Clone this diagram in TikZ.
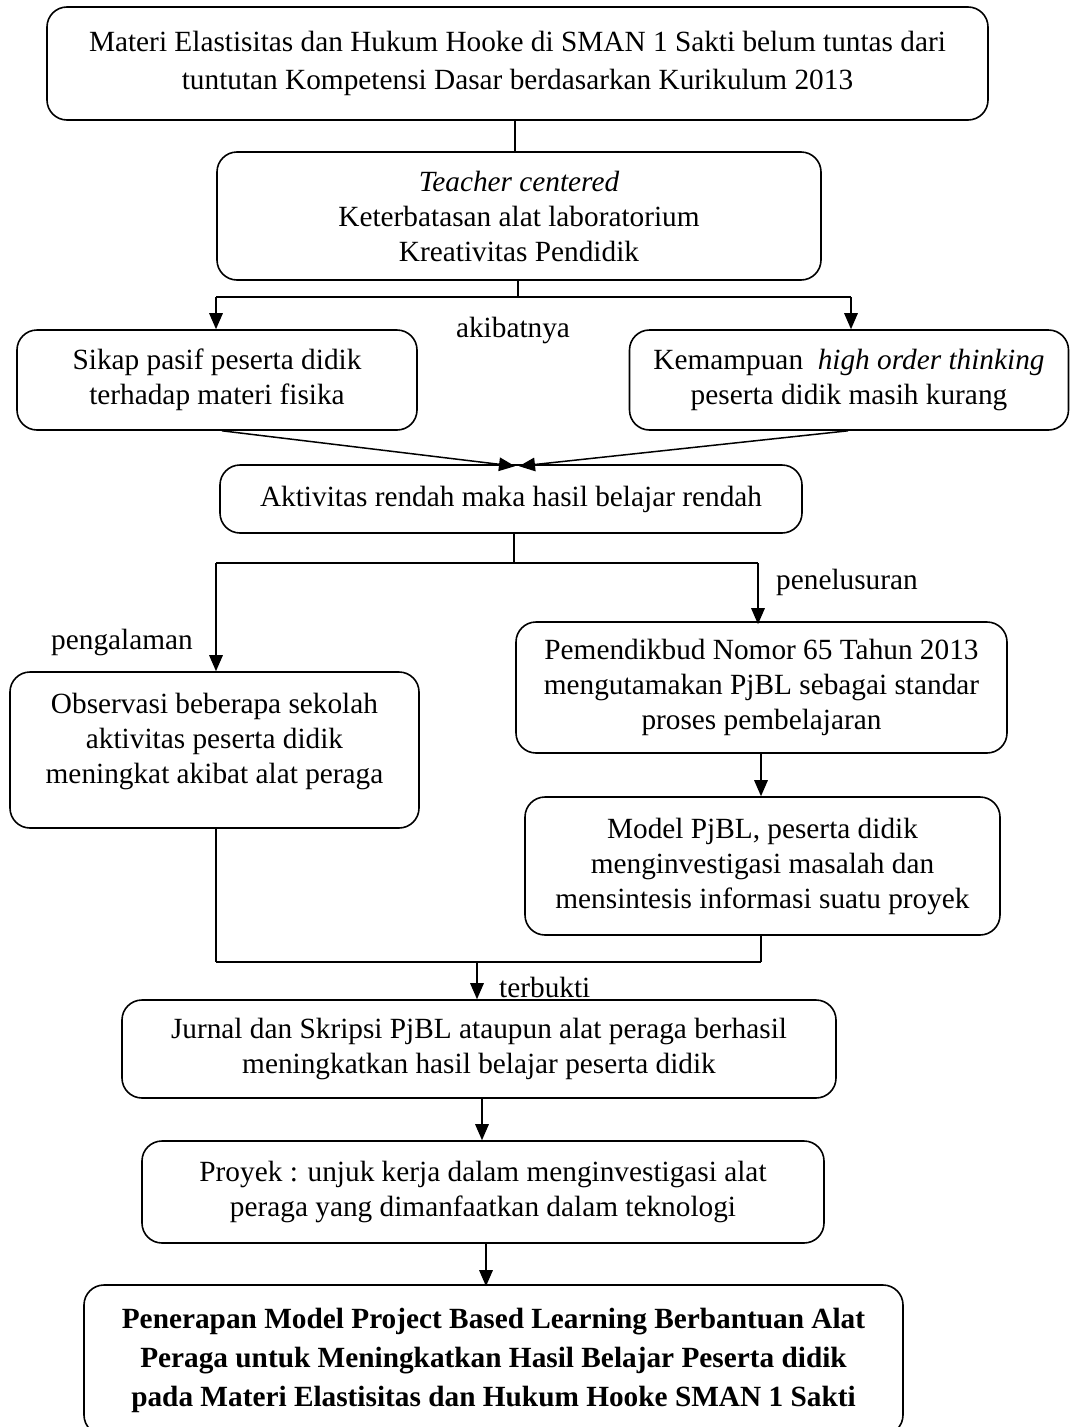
\documentclass[tikz,border=0pt]{standalone}
\usepackage{fontspec}
\setmainfont{Liberation Serif}
\usetikzlibrary{arrows.meta,calc}
\begin{document}
\begin{tikzpicture}[x=1pt,y=-1pt,
  box/.style={draw, line width=1.6pt, rounded corners=20pt, align=center, inner sep=0pt,
    font=\fontsize{29.3}{35}\selectfont},
  lbl/.style={inner sep=0pt, font=\fontsize{29.3}{35}\selectfont},
  conn/.style={line width=1.5pt},
  arr/.style={line width=1.5pt, -{Triangle[length=16pt,width=13.5pt]}}]
\useasboundingbox (0,0) rectangle (1071,1427);
% boxes
\node[box, minimum width=941pt, minimum height=113pt, font=\fontsize{29.3}{38}\selectfont] (b1) at (517.5,63.5)
  {Materi Elastisitas dan Hukum Hooke di SMAN 1 Sakti belum tuntas dari\\tuntutan Kompetensi Dasar berdasarkan Kurikulum 2013};
\node[box, minimum width=604pt, minimum height=128pt] (b2) at (519,216)
  {\textit{Teacher centered}\\Keterbatasan alat laboratorium\\Kreativitas Pendidik};
\node[box, minimum width=400pt, minimum height=100pt] (b3) at (217,380)
  {Sikap pasif peserta didik\\terhadap materi fisika};
\node[box, minimum width=439pt, minimum height=100pt] (b4) at (849,380)
  {Kemampuan\ \ \textit{high order thinking}\\peserta didik masih kurang};
\node[box, minimum width=582pt, minimum height=68pt] (b5) at (511,499)
  {Aktivitas rendah maka hasil belajar rendah};
\node[box, minimum width=409pt, minimum height=156pt, text depth=23pt] (b6) at (214.5,750)
  {Observasi beberapa sekolah\\aktivitas peserta didik\\meningkat akibat alat peraga};
\node[box, minimum width=491pt, minimum height=131pt] (b7) at (761.5,687.5)
  {Pemendikbud Nomor 65 Tahun 2013\\mengutamakan PjBL sebagai standar\\proses pembelajaran};
\node[box, minimum width=475pt, minimum height=138pt] (b8) at (762.5,866)
  {Model PjBL, peserta didik\\menginvestigasi masalah dan\\mensintesis informasi suatu proyek};
\node[box, minimum width=714pt, minimum height=98pt] (b9) at (479,1049)
  {Jurnal dan Skripsi PjBL ataupun alat peraga berhasil\\meningkatkan hasil belajar peserta didik};
\node[box, minimum width=682pt, minimum height=102pt] (b10) at (483,1192)
  {Proyek : unjuk kerja dalam menginvestigasi alat\\peraga yang dimanfaatkan dalam teknologi};
\node[box, minimum width=819pt, minimum height=150pt, font=\fontsize{29.3}{39}\selectfont\bfseries] (b11) at (493.5,1360)
  {Penerapan Model Project Based Learning Berbantuan Alat\\Peraga untuk Meningkatkan Hasil Belajar Peserta didik\\pada Materi Elastisitas dan Hukum Hooke SMAN 1 Sakti};
% labels
\node[lbl] (l1) at (513,330) {akibatnya};
\node[lbl, anchor=west] (l2) at (776,582) {penelusuran};
\node[lbl] (l3) at (122,642) {pengalaman};
\node[lbl, anchor=west] (l4) at (499,987) {terbukti};
% junction points
\coordinate (j1) at (518,297);
\coordinate (j2) at (514,563);
\coordinate (j3) at (477,962);
% connectors
\draw[conn] ([xshift=-2.5pt]b1.south) -- ([xshift=-2.5pt]b1.south |- b2.north);
\draw[conn] (b2.south -| j1) -- (j1);
\draw[conn] ([xshift=-1pt]b3.north |- j1) -- ([xshift=2pt]b4.north |- j1);
\draw[arr] ([xshift=-1pt]b3.north |- j1) -- ([xshift=-1pt]b3.north);
\draw[arr] ([xshift=2pt]b4.north |- j1) -- ([xshift=2pt]b4.north);
\draw[arr] ([xshift=5pt]b3.south) -- ([xshift=4pt,yshift=-2pt]b5.north);
\draw[arr] ([xshift=-1pt]b4.south) -- ([xshift=8pt,yshift=-2pt]b5.north);
\draw[conn] (b5.south -| j2) -- (j2);
\draw[conn] ([xshift=1.5pt]b6.north |- j2) -- ([xshift=-3.5pt]b7.north |- j2);
\draw[arr] ([xshift=1.5pt]b6.north |- j2) -- ([xshift=1.5pt]b6.north);
\draw[arr] ([xshift=-3.5pt]b7.north |- j2) -- ([xshift=-3.5pt,yshift=-3pt]b7.north);
\draw[arr] ([xshift=-0.5pt]b7.south) -- ([xshift=-0.5pt]b7.south |- b8.north);
\draw[conn] ([xshift=1.5pt]b6.south) -- ([xshift=1.5pt]b6.south |- j3);
\draw[conn] ([xshift=-1.5pt]b8.south) -- ([xshift=-1.5pt]b8.south |- j3);
\draw[conn] ([xshift=1.5pt]b6.south |- j3) -- ([xshift=-1.5pt]b8.south |- j3);
\draw[arr] (j3) -- (j3 |- b9.north);
\draw[arr] ([xshift=3pt]b9.south) -- ([xshift=3pt]b9.south |- b10.north);
\draw[arr] ([xshift=3pt]b10.south) -- ([xshift=3pt,yshift=-2pt]b10.south |- b11.north);
\end{tikzpicture}
\end{document}
